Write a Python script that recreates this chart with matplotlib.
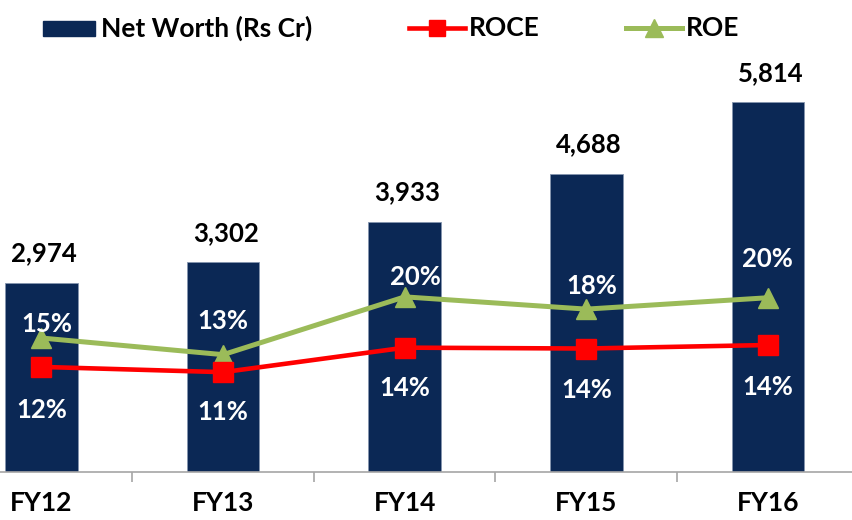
import matplotlib
matplotlib.use("Agg")
import matplotlib.pyplot as plt
from matplotlib.lines import Line2D
from matplotlib.patches import Rectangle
import numpy as np

# ---- data ----
years = ["FY12", "FY13", "FY14", "FY15", "FY16"]
net_worth = [2974, 3302, 3933, 4688, 5814]
roce = [11.6, 11.0, 13.8, 13.7, 14.1]
roe = [14.9, 13.0, 19.6, 18.2, 19.5]
roce_labels = ["12%", "11%", "14%", "14%", "14%"]
roe_labels = ["15%", "13%", "20%", "18%", "20%"]

NAVY = "#0B2855"
RED = "#FF0000"
GREEN = "#9BBB59"
FONT = "Lato"

W, H = 853, 520
fig = plt.figure(figsize=(W / 100, H / 100), dpi=100)
ax = fig.add_axes([0, 48 / H, 1, 1 - 48 / H])
ax2 = ax.twinx()

x = np.arange(len(years))
bars = ax.bar(x, net_worth, width=0.4, color=NAVY, edgecolor="#8595AE", linewidth=0.6, zorder=2)
ax.set_xlim(-0.2285, 4.4686)
ax.set_ylim(0, 7417)
ax2.set_ylim(-0.4, 53.5)

for xi, v in zip(x, net_worth):
    ax.annotate(f"{v:,}", (xi, v), xytext=(2, 21), textcoords="offset points",
                ha="center", va="center", fontsize=18.5, fontweight="bold",
                family=FONT, color="black")

ax2.plot(x, roe, color=GREEN, lw=3.6, marker="^", markersize=15, zorder=3)
ax2.plot(x, roce, color=RED, lw=3.3, marker="s", markersize=14, zorder=4)

roe_off = [(4, 10), (0, 24), (8, 14), (4, 17), (0, 28)]
roce_off = [(0, -31), (0, -29), (0, -29), (0, -30), (0, -30)]
for xi, v, lab, off in zip(x, roe, roe_labels, roe_off):
    ax2.annotate(lab, (xi, v), xytext=off, textcoords="offset points",
                 ha="center", va="center", fontsize=18.5, fontweight="bold",
                 family=FONT, color="white", zorder=5)
for xi, v, lab, off in zip(x, roce, roce_labels, roce_off):
    ax2.annotate(lab, (xi, v), xytext=off, textcoords="offset points",
                 ha="center", va="center", fontsize=18.5, fontweight="bold",
                 family=FONT, color="white", zorder=5)

for a in (ax, ax2):
    for s in ("top", "left", "right", "bottom"):
        a.spines[s].set_visible(False)
ax.spines["bottom"].set_visible(True)
ax.spines["bottom"].set_color("#A6A6A6")
ax.spines["bottom"].set_linewidth(1.2)
ax2.set_yticks([])
ax.set_yticks([])

ax.set_xticks(x)
ax.set_xticklabels(years, fontsize=19, fontweight="bold", family=FONT)
ax.tick_params(axis="x", which="major", length=0, pad=14)
ax.set_xticks(np.arange(0.5, len(years) - 0.5, 1), minor=True)
ax.tick_params(axis="x", which="minor", length=7, width=1.2, color="#A6A6A6")

# ---- legend ----
def fx(px):
    return px / W

def fy(py):
    return 1 - py / H

ly = 28
fig.add_artist(Rectangle((fx(43.5), fy(36)), fx(95) - fx(43.5), fy(21) - fy(36),
                         transform=fig.transFigure, color=NAVY))
fig.text(fx(101), fy(ly), "Net Worth (Rs Cr)", ha="left", va="center",
         fontsize=19, fontweight="bold", family=FONT)
fig.add_artist(Line2D([fx(409), fx(465)], [fy(ly), fy(ly)], transform=fig.transFigure,
                      color=RED, lw=3.3))
fig.add_artist(Line2D([fx(437)], [fy(ly)], transform=fig.transFigure, color=RED,
                      marker="s", markersize=12, lw=0))
fig.text(fx(469), fy(ly), "ROCE", ha="left", va="center",
         fontsize=19, fontweight="bold", family=FONT)
fig.add_artist(Line2D([fx(626), fx(682)], [fy(ly), fy(ly)], transform=fig.transFigure,
                      color=GREEN, lw=3.6))
fig.add_artist(Line2D([fx(654)], [fy(ly)], transform=fig.transFigure, color=GREEN,
                      marker="^", markersize=13, lw=0))
fig.text(fx(686), fy(ly), "ROE", ha="left", va="center",
         fontsize=19, fontweight="bold", family=FONT)

fig.savefig("out.png", dpi=100)
